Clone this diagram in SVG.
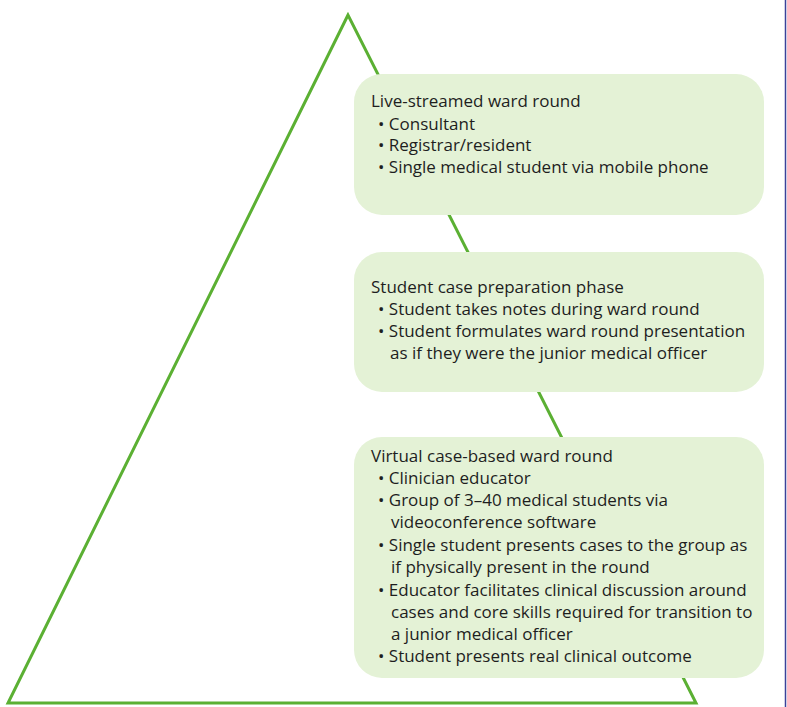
<svg xmlns="http://www.w3.org/2000/svg" width="787" height="707" viewBox="0 0 787 707">
<style>
.box{fill:#e4f2d6;}
.t{font-family:"Open Sans","Liberation Sans",sans-serif;font-size:17px;fill:#1e1e1e;}
.tri{fill:none;stroke:#5bb033;stroke-width:3;stroke-linejoin:miter;}
</style>
<rect x="0" y="0" width="787" height="707" fill="#ffffff"/>
<g id="connectors">
<polygon class="tri" points="348,15 8,703 696,703"/>
</g>
<line x1="785.5" y1="0" x2="785.5" y2="707" stroke="#3b4199" stroke-width="1.5"/>
<g id="node-live">
<rect class="box" x="354" y="74" width="410" height="141" rx="28"/>
<text class="t" x="371" y="107">Live-streamed ward round</text>
<text class="t" x="378" y="130">• Consultant</text>
<text class="t" x="378" y="151">• Registrar/resident</text>
<text class="t" x="378" y="173">• Single medical student via mobile phone</text>
</g>
<g id="node-prep">
<rect class="box" x="354" y="252" width="410" height="140" rx="28"/>
<text class="t" x="371" y="293">Student case preparation phase</text>
<text class="t" x="378" y="315">• Student takes notes during ward round</text>
<text class="t" x="378" y="337">• Student formulates ward round presentation</text>
<text class="t" x="390" y="359">as if they were the junior medical officer</text>
</g>
<g id="node-virtual">
<rect class="box" x="354" y="437" width="410" height="241" rx="28"/>
<text class="t" x="371" y="462">Virtual case-based ward round</text>
<text class="t" x="378" y="484">• Clinician educator</text>
<text class="t" x="378" y="506">• Group of 3–40 medical students via</text>
<text class="t" x="391" y="528">videoconference software</text>
<text class="t" x="378" y="551">• Single student presents cases to the group as</text>
<text class="t" x="391" y="573">if physically present in the round</text>
<text class="t" x="378" y="596">• Educator facilitates clinical discussion around</text>
<text class="t" x="391" y="618">cases and core skills required for transition to</text>
<text class="t" x="391" y="640">a junior medical officer</text>
<text class="t" x="378" y="662">• Student presents real clinical outcome</text>
</g>
</svg>
